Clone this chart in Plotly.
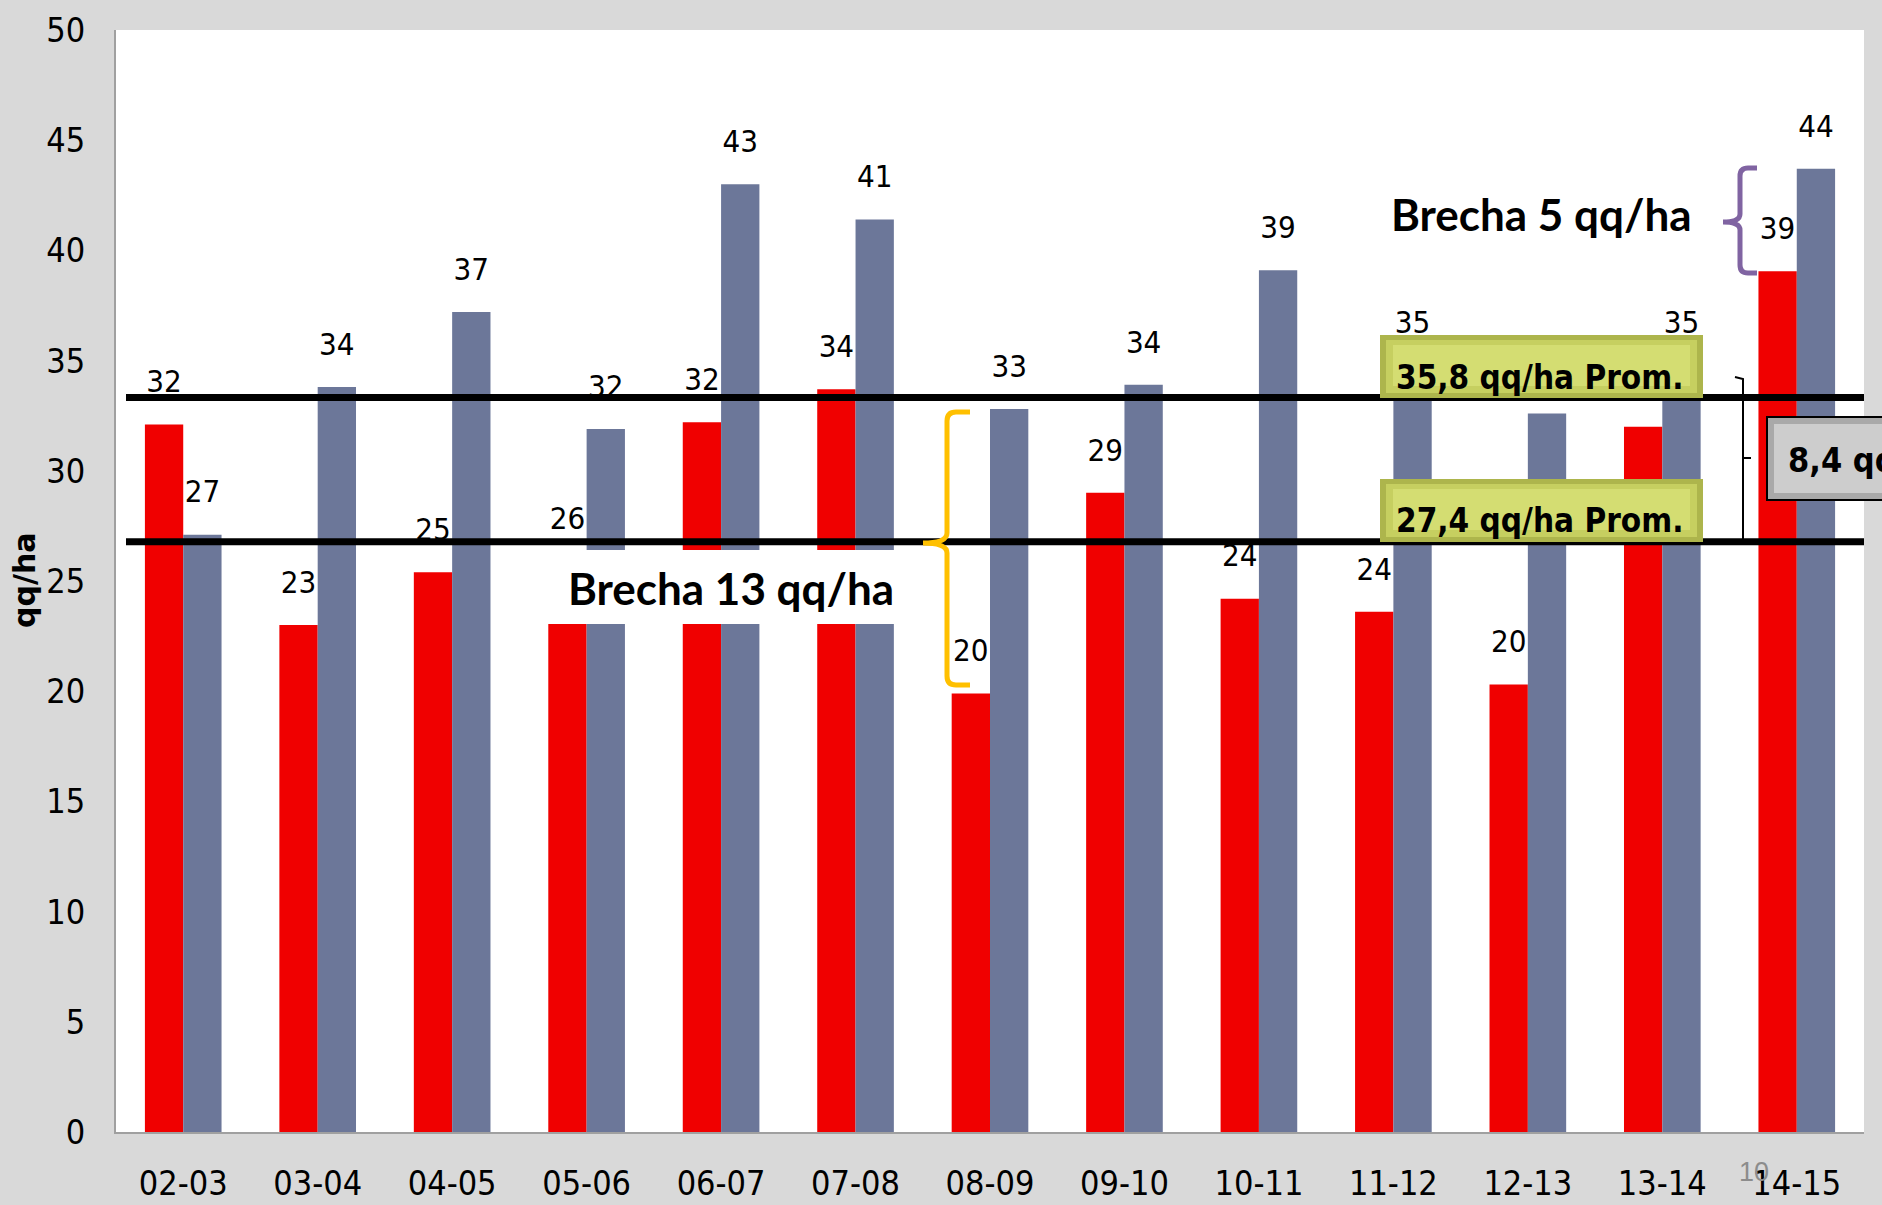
import plotly.graph_objects as go

# ---------------- data ----------------
campaigns = ["02-03", "03-04", "04-05", "05-06", "06-07", "07-08", "08-09",
             "09-10", "10-11", "11-12", "12-13", "13-14", "14-15"]
serie_roja = [32.1, 23.0, 25.4, 25.9, 32.2, 33.7, 19.9, 29.0, 24.2, 23.6, 20.3, 32.0, 39.05]
serie_gris = [27.1, 33.8, 37.2, 31.9, 43.0, 41.4, 32.8, 33.9, 39.1, 34.8, 32.6, 34.8, 43.7]
y_ticks = [0, 5, 10, 15, 20, 25, 30, 35, 40, 45, 50]
lineas_prom = [33.33, 26.78]          # drawn positions of the two average lines
textos_prom = ["35,8 qq/ha Prom.", "27,4 qq/ha Prom."]

# ---------------- layout geometry (pixels) ----------------
W, H = 1882, 1205
L, R, T, B = 116, 1864, 30, 1132
YMAX = 50
PPU = (B - T) / YMAX

def px(x):
    return (x - L) / (R - L)

def py(y):
    return (B - y) / (B - T)

RED = "#F00000"
GREY = "#6C7799"
COND = "DejaVu Sans Condensed, DejaVu Sans, sans-serif"

bargap = 0.43
half = (1 - bargap) / 4
n = len(campaigns)

fig = go.Figure()
fig.add_trace(go.Bar(x=campaigns, y=serie_roja, marker=dict(color=RED, line=dict(width=0)), name="A"))
fig.add_trace(go.Bar(x=campaigns, y=serie_gris, marker=dict(color=GREY, line=dict(width=0)), name="B"))

off = 40 / PPU
for sign, serie in [(-1, serie_roja), (1, serie_gris)]:
    fig.add_trace(go.Scatter(
        x=[i + sign * half for i in range(n)], y=[v + off for v in serie],
        text=[f"{round(v)}" for v in serie], mode="text", xaxis="x2",
        textfont=dict(family=COND, size=31, color="black"), cliponaxis=False, hoverinfo="skip"))

shapes = []
# average lines
for yv in lineas_prom:
    shapes.append(dict(type="line", xref="paper", yref="y", x0=px(126), x1=1, y0=yv, y1=yv,
                       line=dict(color="black", width=7), layer="above"))

# white box "Brecha 13"
shapes.append(dict(type="rect", xref="paper", yref="paper", x0=px(547), x1=px(930), y0=py(624), y1=py(550),
                   fillcolor="white", line=dict(width=0), layer="above"))

# green boxes (bevelled)
for (top, bot) in [(335, 398), (479, 542)]:
    shapes.append(dict(type="rect", xref="paper", yref="paper", x0=px(1380), x1=px(1703), y0=py(bot), y1=py(top),
                       fillcolor="#ADB54C", line=dict(width=0), layer="above"))
    shapes.append(dict(type="rect", xref="paper", yref="paper", x0=px(1386), x1=px(1697), y0=py(bot - 5), y1=py(top + 5),
                       fillcolor="#C6CF60", line=dict(width=0), layer="above"))
    shapes.append(dict(type="rect", xref="paper", yref="paper", x0=px(1393), x1=px(1690), y0=py(bot - 12), y1=py(top + 10),
                       fillcolor="#D4DD72", line=dict(width=0), layer="above"))

# grey box "8,4"
shapes.append(dict(type="rect", xref="paper", yref="paper", x0=px(1767), x1=px(1900), y0=py(500), y1=py(417),
                   fillcolor="#A9A9A9", line=dict(color="black", width=2), layer="above"))
shapes.append(dict(type="rect", xref="paper", yref="paper", x0=px(1774), x1=px(1900), y0=py(493), y1=py(424),
                   fillcolor="#CDCDCD", line=dict(width=0), layer="above"))

def P(x, y):
    return f"{px(x)},{py(y)}"

# orange brace
orange = (f"M {P(970,412)} L {P(956,412)} Q {P(947,412)} {P(947,421)} L {P(947,533)} "
          f"Q {P(947,543)} {P(923,543)} Q {P(947,543)} {P(947,553)} L {P(947,676)} "
          f"Q {P(947,685)} {P(956,685)} L {P(970,685)}")
shapes.append(dict(type="path", xref="paper", yref="paper", path=orange,
                   line=dict(color="#FFC000", width=5), layer="above"))

# purple brace
purple = (f"M {P(1757,168)} L {P(1748,168)} Q {P(1740,168)} {P(1740,176)} L {P(1740,214)} "
          f"Q {P(1740,222)} {P(1723,222)} Q {P(1740,222)} {P(1740,230)} L {P(1740,265)} "
          f"Q {P(1740,273)} {P(1748,273)} L {P(1757,273)}")
shapes.append(dict(type="path", xref="paper", yref="paper", path=purple,
                   line=dict(color="#8064A2", width=5), layer="above"))

# thin bracket
br = f"M {P(1735,377)} L {P(1743,379)} L {P(1743,540)} M {P(1743,458)} L {P(1751,458)}"
shapes.append(dict(type="path", xref="paper", yref="paper", path=br,
                   line=dict(color="black", width=2), layer="above"))

annotations = []
annotations.append(dict(text="<b>Brecha 13 qq/ha</b>", xref="paper", yref="paper", x=px(731), y=py(588),
                        showarrow=False, font=dict(family="Lato", size=44, color="black"),
                        xanchor="center", yanchor="middle"))
annotations.append(dict(text="<b>Brecha 5 qq/ha</b>", xref="paper", yref="paper", x=px(1541), y=py(214),
                        showarrow=False, font=dict(family="Lato", size=44, color="black"),
                        xanchor="center", yanchor="middle"))
for txt, yc in zip(textos_prom, [377, 520]):
    annotations.append(dict(text=f"<b>{txt}</b>", xref="paper", yref="paper", x=px(1539), y=py(yc),
                            showarrow=False, font=dict(family=COND, size=33, color="black"),
                            xanchor="center", yanchor="middle"))
annotations.append(dict(text="<b>8,4 qq/ha</b>", xref="paper", yref="paper", x=px(1786), y=py(460),
                        showarrow=False, font=dict(family=COND, size=34, color="black"),
                        xanchor="left", yanchor="middle"))
annotations.append(dict(text="<b>qq/ha</b>", xref="paper", yref="paper", x=px(24), y=py(580),
                        showarrow=False, textangle=-90, font=dict(family="DejaVu Sans", size=30, color="black"),
                        xanchor="center", yanchor="middle"))
annotations.append(dict(text="10", xref="paper", yref="paper", x=px(1754), y=py(1172),
                        showarrow=False, font=dict(family="Liberation Sans", size=27, color="#8C8C8C"),
                        xanchor="center", yanchor="middle"))

fig.update_layout(
    template="none",
    width=W, height=H, autosize=False,
    margin=dict(l=L, r=W - R, t=T, b=H - B, pad=0, autoexpand=False),
    paper_bgcolor="#D9D9D9", plot_bgcolor="white",
    barmode="group", bargap=bargap, bargroupgap=0,
    showlegend=False,
    shapes=shapes, annotations=annotations,
    xaxis=dict(type="category", showgrid=False, zeroline=False, showline=True, linecolor="#A0A0A0", linewidth=2,
               ticks="outside", ticklen=20, tickcolor="rgba(0,0,0,0)", automargin=False,
               tickfont=dict(family=COND, size=34, color="black"), fixedrange=True),
    xaxis2=dict(overlaying="x", range=[-0.5, n - 0.5], visible=False, fixedrange=True, automargin=False),
    yaxis=dict(range=[0, YMAX], tickvals=y_ticks, showgrid=False, zeroline=False, showline=True,
               linecolor="#A0A0A0", linewidth=2, ticks="outside", ticklen=22, tickcolor="rgba(0,0,0,0)",
               automargin=False, tickfont=dict(family=COND, size=34, color="black"), fixedrange=True),
)

fig.write_html("out.html", config={"displayModeBar": False},
               post_script="document.body.style.margin='0px';document.body.style.overflow='hidden';")
